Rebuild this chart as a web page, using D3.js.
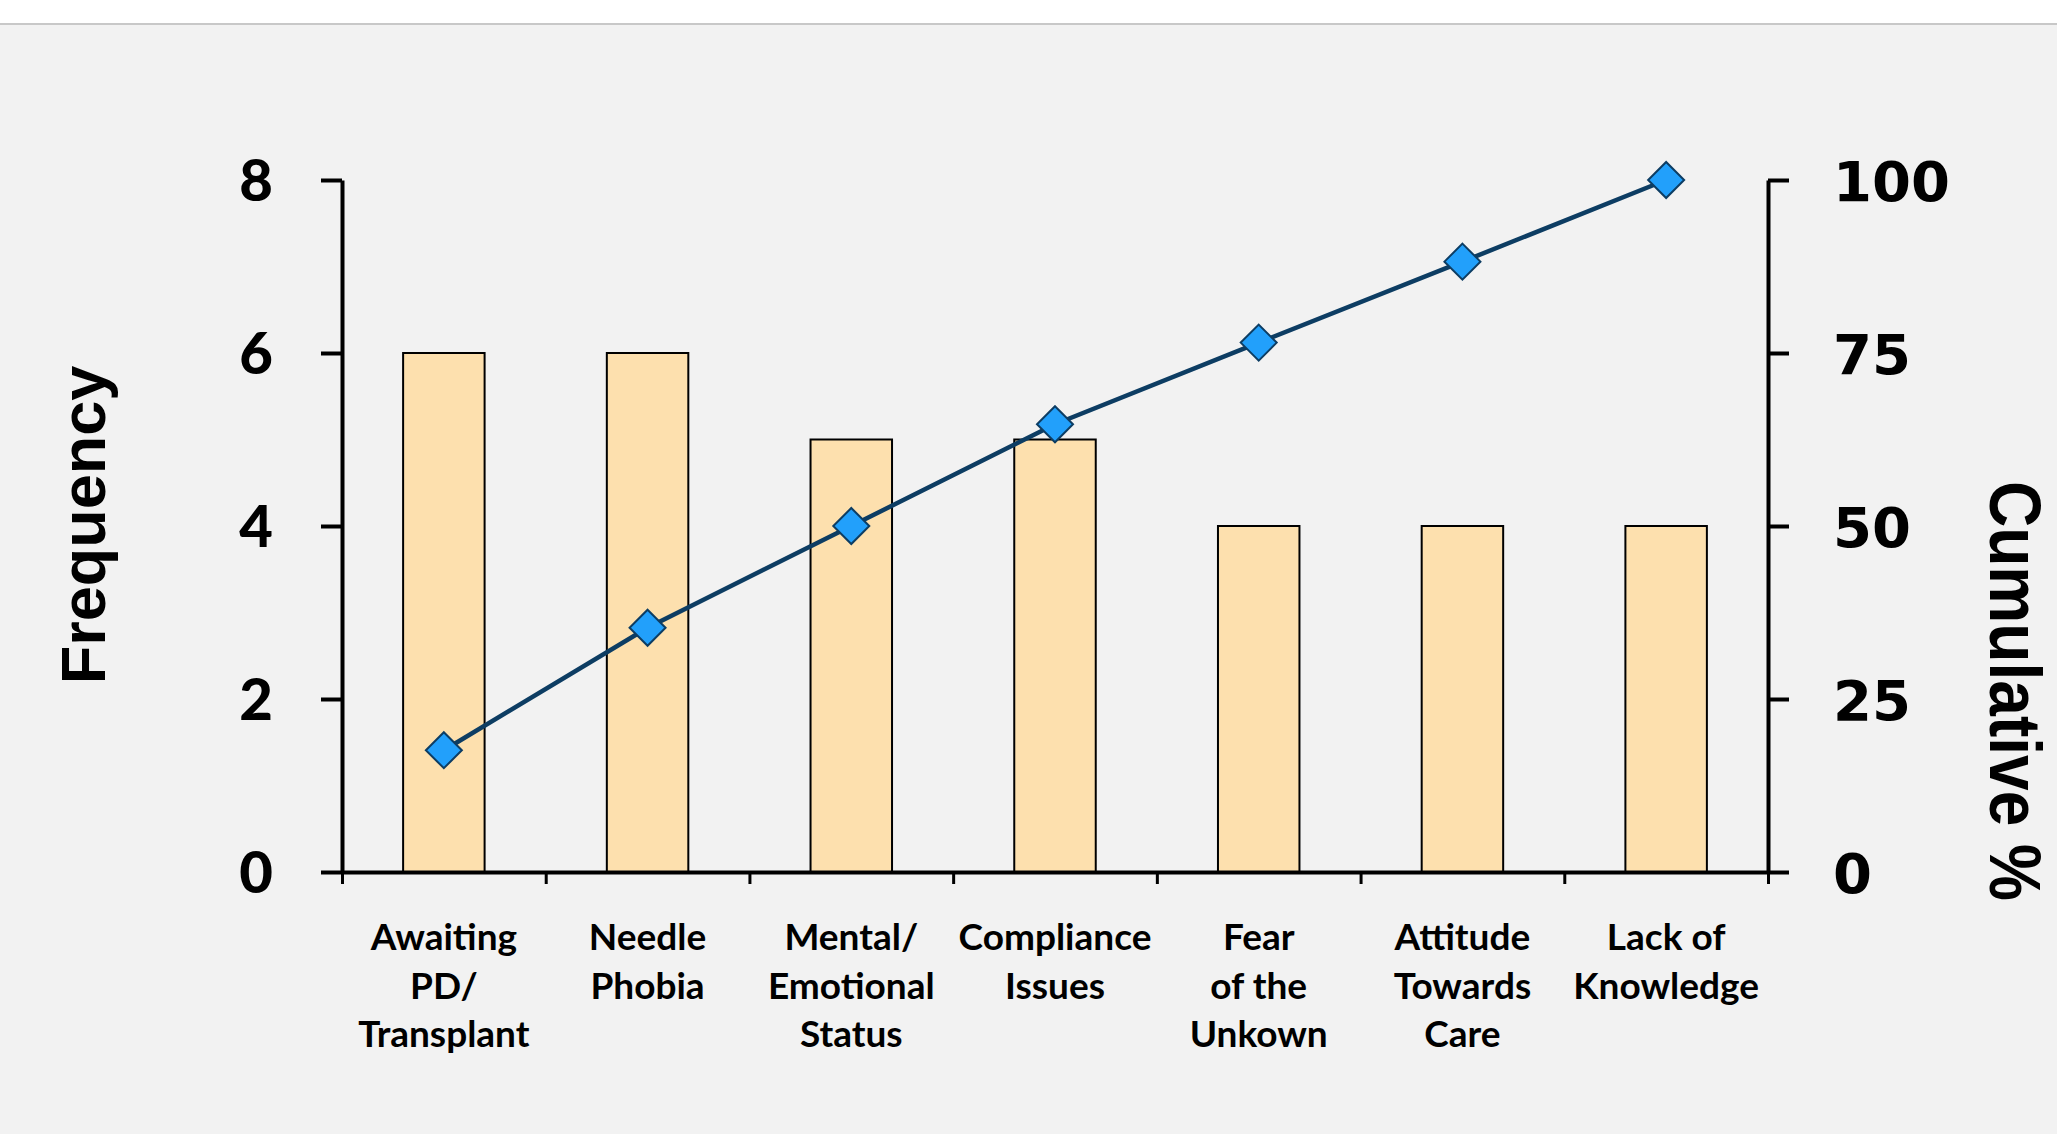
<!DOCTYPE html>
<html>
<head>
<meta charset="utf-8">
<script src="https://cdn.jsdelivr.net/npm/d3@7"></script>
<style>
  html, body { margin: 0; padding: 0; background: #ffffff; }
  svg { display: block; }
</style>
</head>
<body>
<div id="chart"></div>
<script>
// Chart data
const categories = [
  ['Awaiting', 'PD/', 'Transplant'],
  ['Needle', 'Phobia'],
  ['Mental/', 'Emotional', 'Status'],
  ['Compliance', 'Issues'],
  ['Fear', 'of the', 'Unkown'],
  ['Attitude', 'Towards', 'Care'],
  ['Lack of', 'Knowledge']
];
const frequency = [6, 6, 5, 5, 4, 4, 4];
const cumulativePct = [17.6, 35.3, 50.0, 64.7, 76.5, 88.2, 100];
const leftTicks = [0, 2, 4, 6, 8];
const rightTicks = [0, 25, 50, 75, 100];

const width = 2057;
const height = 1134;
const plot = { left: 342, right: 1768, top: 180, bottom: 872 };

const svg = d3.select('#chart').append('svg')
  .attr('width', width)
  .attr('height', height);

// Background: white strip on top, grey panel below
svg.append('rect')
  .attr('x', 0).attr('y', 0)
  .attr('width', width).attr('height', height)
  .attr('fill', '#ffffff');
svg.append('rect')
  .attr('x', 0).attr('y', 25)
  .attr('width', width).attr('height', height - 25)
  .attr('fill', '#f2f2f2');
svg.append('line')
  .attr('x1', 0).attr('x2', width)
  .attr('y1', 24).attr('y2', 24)
  .attr('stroke', '#c8c8c8')
  .attr('stroke-width', 2);

const keys = categories.map(c => c.join(' '));

const x = d3.scaleBand()
  .domain(keys)
  .range([plot.left, plot.right])
  .padding(0);

const yLeft = d3.scaleLinear()
  .domain([0, 8])
  .range([plot.bottom, plot.top]);

const yRight = d3.scaleLinear()
  .domain([0, 100])
  .range([plot.bottom, plot.top]);

// Bars
const barW = x.bandwidth() * 0.4;
svg.append('g')
  .selectAll('rect')
  .data(frequency)
  .join('rect')
  .attr('x', (d, i) => x(keys[i]) + (x.bandwidth() - barW) / 2)
  .attr('y', d => yLeft(d))
  .attr('width', barW)
  .attr('height', d => yLeft(0) - yLeft(d))
  .attr('fill', '#fde0ae')
  .attr('stroke', '#000000')
  .attr('stroke-width', 2);

// Bottom axis with ticks at the category boundaries
const xEdges = d3.scaleLinear()
  .domain([0, keys.length])
  .range([plot.left, plot.right]);

const bottomAxis = svg.append('g')
  .attr('transform', `translate(0,${plot.bottom})`)
  .call(d3.axisBottom(xEdges)
    .tickValues(d3.range(keys.length + 1))
    .tickSize(12)
    .tickSizeOuter(0)
    .tickFormat(''));
bottomAxis.select('.domain').attr('stroke-width', 4).attr('stroke', '#000');
bottomAxis.selectAll('.tick line').attr('stroke-width', 3).attr('stroke', '#000');

// Left axis
const leftAxis = svg.append('g')
  .attr('transform', `translate(${plot.left},0)`)
  .call(d3.axisLeft(yLeft)
    .tickValues(leftTicks)
    .tickSize(21)
    .tickSizeOuter(0)
    .tickPadding(48));
leftAxis.select('.domain').attr('stroke-width', 4).attr('stroke', '#000');
leftAxis.selectAll('.tick line').attr('stroke-width', 4).attr('stroke', '#000');
leftAxis.selectAll('.tick text')
  .attr('font-family', 'Lato, "Open Sans", sans-serif')
  .attr('font-weight', 900)
  .attr('font-size', 58)
  .attr('fill', '#000')
  .attr('dy', '0.36em');

// Right axis
const rightAxis = svg.append('g')
  .attr('transform', `translate(${plot.right},0)`)
  .call(d3.axisRight(yRight)
    .tickValues(rightTicks)
    .tickSize(21)
    .tickSizeOuter(0)
    .tickPadding(44));
rightAxis.select('.domain').attr('stroke-width', 4).attr('stroke', '#000');
rightAxis.selectAll('.tick line').attr('stroke-width', 4).attr('stroke', '#000');
rightAxis.selectAll('.tick text')
  .attr('font-family', '"DejaVu Sans", Verdana, sans-serif')
  .attr('font-weight', 'bold')
  .attr('font-size', 56)
  .attr('fill', '#000')
  .attr('dy', '0.36em');

// Category labels (multi-line)
const labels = svg.append('g')
  .selectAll('text')
  .data(categories)
  .join('text')
  .attr('x', (d, i) => x(keys[i]) + x.bandwidth() / 2)
  .attr('y', 950)
  .attr('text-anchor', 'middle')
  .attr('font-family', 'Lato, "Open Sans", sans-serif')
  .attr('font-weight', 'bold')
  .attr('font-size', 37)
  .attr('fill', '#000');

labels.selectAll('tspan')
  .data(d => d)
  .join('tspan')
  .attr('x', function () { return d3.select(this.parentNode).attr('x'); })
  .attr('dy', (d, i) => i === 0 ? 0 : 48.5)
  .text(d => d);

// Cumulative line
const line = d3.line()
  .x((d, i) => x(keys[i]) + x.bandwidth() / 2)
  .y(d => yRight(d));

svg.append('path')
  .datum(cumulativePct)
  .attr('fill', 'none')
  .attr('stroke', '#0d3d63')
  .attr('stroke-width', 4.5)
  .attr('d', line);

// Diamond markers
svg.append('g')
  .selectAll('path')
  .data(cumulativePct)
  .join('path')
  .attr('transform', (d, i) => `translate(${x(keys[i]) + x.bandwidth() / 2},${yRight(d)})`)
  .attr('d', 'M0,-18L18,0L0,18L-18,0Z')
  .attr('fill', '#22a0fb')
  .attr('stroke', '#0d3d63')
  .attr('stroke-width', 2);

// Axis titles
svg.append('text')
  .attr('transform', 'translate(105,525) rotate(-90)')
  .attr('text-anchor', 'middle')
  .attr('font-family', '"Liberation Sans", Arial, sans-serif')
  .attr('font-weight', 'bold')
  .attr('font-size', 63)
  .attr('fill', '#000')
  .text('Frequency');

// Narrow bold title, compressed along its reading direction
svg.append('text')
  .attr('transform', 'translate(1990,691) rotate(90) scale(0.89,1)')
  .attr('text-anchor', 'middle')
  .attr('font-family', '"Liberation Sans", Arial, sans-serif')
  .attr('font-weight', 'bold')
  .attr('font-size', 72)
  .attr('fill', '#000')
  .text('Cumulative %');
</script>
</body>
</html>
